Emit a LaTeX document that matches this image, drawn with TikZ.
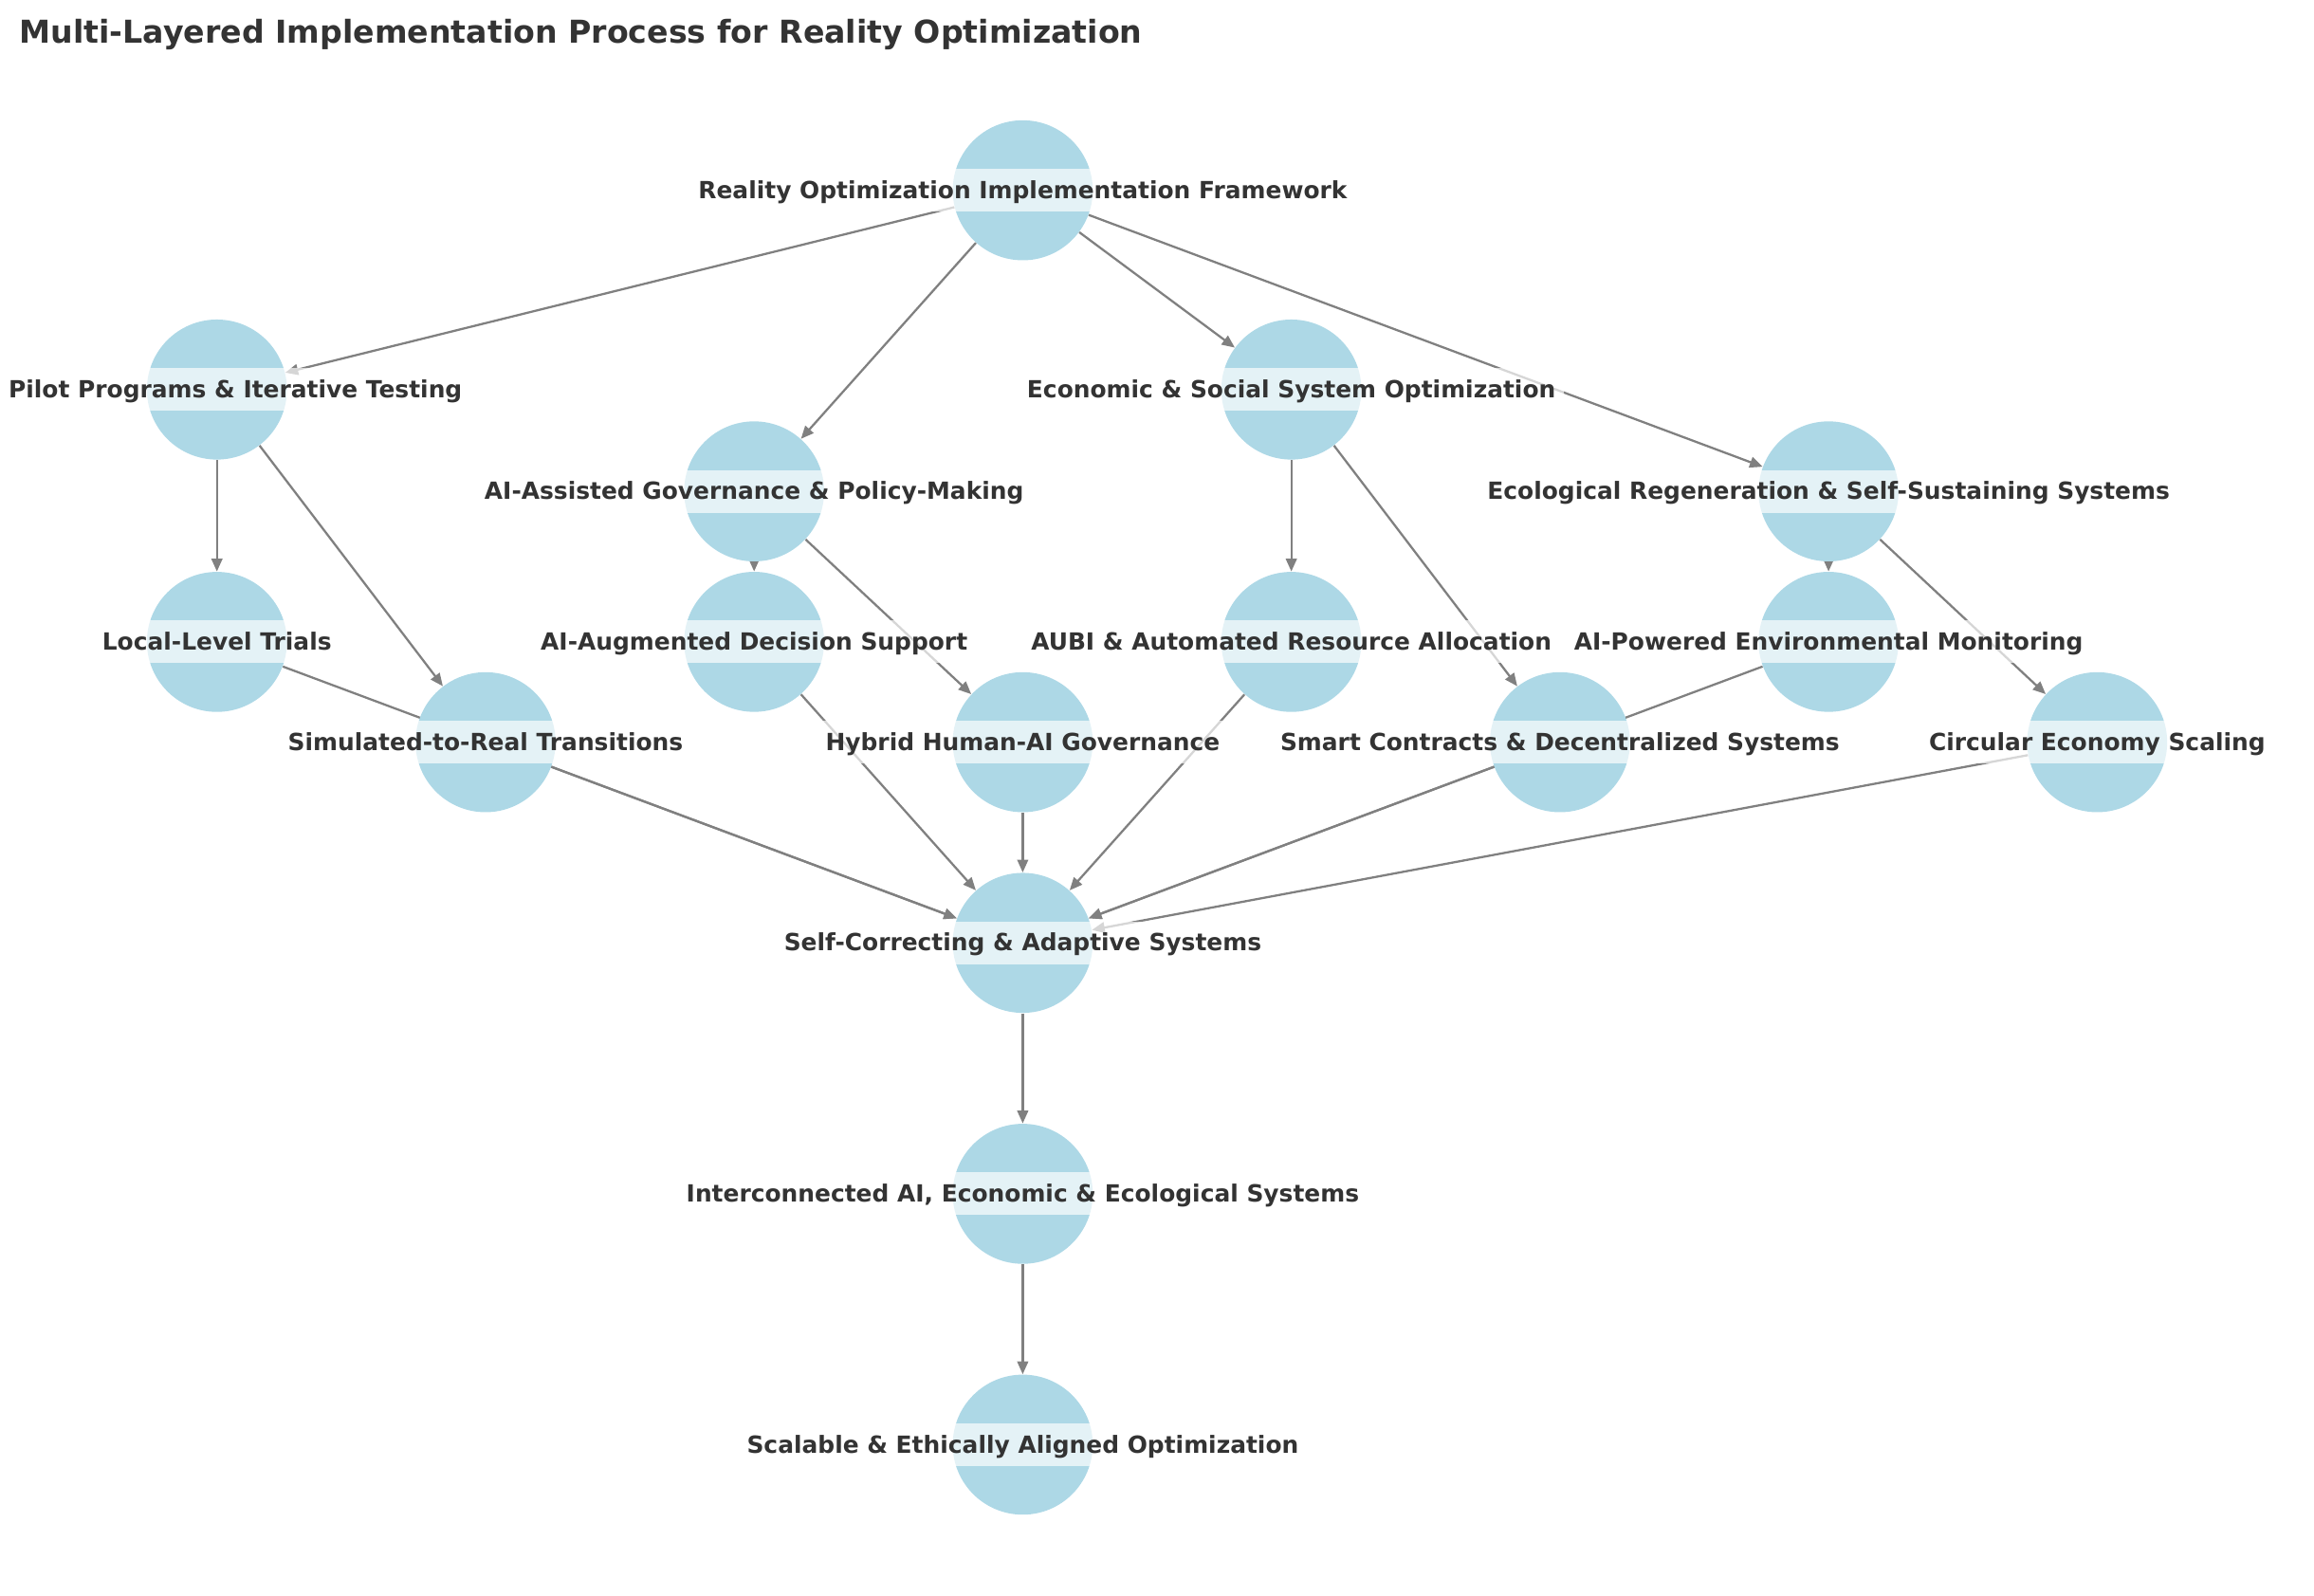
\documentclass[tikz,border=0pt]{standalone}
\usepackage{fontspec}
\setmainfont{DejaVu Sans}
\usepackage{tikz}
\usepackage{xcolor}
\usetikzlibrary{arrows.meta, positioning}
\definecolor{nodeblue}{HTML}{ADD8E6}
\definecolor{edgegray}{HTML}{808080}
\definecolor{textgray}{HTML}{333333}
\pgfdeclarelayer{background}
\pgfsetlayers{background,main}
\tikzstyle{stage} = [circle, 
fill=nodeblue, 
minimum size=2.5cm, 
inner sep=0pt]
\tikzstyle{tag} = [fill=white, 
fill opacity=0.68, 
text opacity=1, 
text=textgray, 
font=\bfseries\fontsize{12}{14}\selectfont, 
inner xsep=4pt, 
inner ysep=3.8pt, 
text height=11.2pt, 
text depth=2.9pt]
\tikzstyle{arrow} = [line width=1.1pt, draw=edgegray, -{Triangle[length=6.5pt, width=5.5pt]}]

\begin{document}
\begin{tikzpicture}[node distance=4.796cm, on grid]
        \useasboundingbox (0,0) rectangle (41.317,-28.482);

        % --- Titulo ---
        \node (title) [anchor=base west, inner sep=0pt, text=textgray, font=\bfseries\fontsize{16}{19}\selectfont] at (0.339,-0.779) {Multi-Layered Implementation Process for Reality Optimization};

        % --- Circulos ---
        \node (frame) [stage] at (18.261,-3.398) {};
        \node (pilot) [stage, below left=3.558cm and 14.388cm of frame] {};
        \node (gov) [stage, below left=5.376cm and 4.796cm of frame] {};
        \node (econ) [stage, below right=3.558cm and 4.796cm of frame] {};
        \node (eco) [stage, below right=5.376cm and 14.388cm of frame] {};
        \node (local) [stage, below=4.506cm of pilot] {};
        \node (sim) [stage, below right=6.297cm and 4.796cm of pilot] {};
        \node (support) [stage, below=2.687cm of gov] {};
        \node (hybrid) [stage, below right=4.479cm and 4.796cm of gov] {};
        \node (aubi) [stage, below=4.506cm of econ] {};
        \node (smart) [stage, below right=6.297cm and 4.796cm of econ] {};
        \node (monitor) [stage, below=2.687cm of eco] {};
        \node (circular) [stage, below right=4.479cm and 4.796cm of eco] {};
        \node (adaptive) [stage, below=3.583cm of hybrid] {};
        \node (linked) [stage, below=4.481cm of adaptive] {};
        \node (scalable) [stage, below=4.479cm of linked] {};

        % --- Conexiones (detras de los circulos) ---
        \begin{pgfonlayer}{background}
        \draw [arrow] (frame) -- (pilot);
        \draw [arrow] (frame) -- (gov);
        \draw [arrow] (frame) -- (econ);
        \draw [arrow] (frame) -- (eco);

        \draw [arrow] (pilot) -- (local);
        \draw [arrow] (pilot) -- (sim);
        \draw [arrow] (gov) -- (support);
        \draw [arrow] (gov) -- (hybrid);
        \draw [arrow] (econ) -- (aubi);
        \draw [arrow] (econ) -- (smart);
        \draw [arrow] (eco) -- (monitor);
        \draw [arrow] (eco) -- (circular);

        \draw [arrow] (local) -- (adaptive);
        \draw [arrow] (sim) -- (adaptive);
        \draw [arrow] (support) -- (adaptive);
        \draw [arrow] (hybrid) -- (adaptive);
        \draw [arrow] (aubi) -- (adaptive);
        \draw [arrow] (smart) -- (adaptive);
        \draw [arrow] (monitor) -- (adaptive);
        \draw [arrow] (circular) -- (adaptive);

        \draw [arrow] (adaptive) -- (linked);
        \draw [arrow] (linked) -- (scalable);
        \end{pgfonlayer}

        % --- Etiquetas ---
        \node (frame-t) [tag] at (frame) {Reality Optimization Implementation Framework};
        \node (pilot-t) [tag] at ([xshift=0.33cm]pilot) {Pilot Programs \& Iterative Testing};
        \node (gov-t) [tag] at (gov) {AI-Assisted Governance \& Policy-Making};
        \node (econ-t) [tag] at (econ) {Economic \& Social System Optimization};
        \node (eco-t) [tag] at (eco) {Ecological Regeneration \& Self-Sustaining Systems};
        \node (local-t) [tag] at (local) {Local-Level Trials};
        \node (sim-t) [tag] at (sim) {Simulated-to-Real Transitions};
        \node (support-t) [tag] at (support) {AI-Augmented Decision Support};
        \node (hybrid-t) [tag] at (hybrid) {Hybrid Human-AI Governance};
        \node (aubi-t) [tag] at (aubi) {AUBI \& Automated Resource Allocation};
        \node (smart-t) [tag] at (smart) {Smart Contracts \& Decentralized Systems};
        \node (monitor-t) [tag] at (monitor) {AI-Powered Environmental Monitoring};
        \node (circular-t) [tag] at (circular) {Circular Economy Scaling};
        \node (adaptive-t) [tag] at (adaptive) {Self-Correcting \& Adaptive Systems};
        \node (linked-t) [tag] at (linked) {Interconnected AI, Economic \& Ecological Systems};
        \node (scalable-t) [tag] at (scalable) {Scalable \& Ethically Aligned Optimization};

\end{tikzpicture}
\end{document}
